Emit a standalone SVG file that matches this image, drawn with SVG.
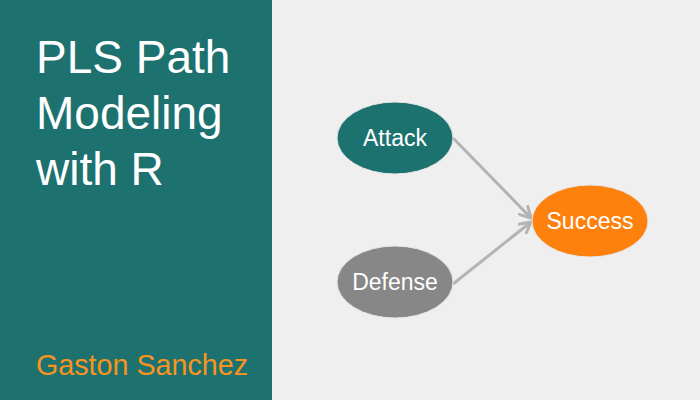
<svg xmlns="http://www.w3.org/2000/svg" width="700" height="400" viewBox="0 0 700 400">
<defs>
<style>
.title{font-family:"Liberation Sans",Arial,sans-serif;font-size:46px;fill:#ffffff}
.author{font-family:"Liberation Sans",Arial,sans-serif;font-size:28.7px;fill:#f7941d}
.lbl{font-family:"Liberation Sans",Arial,sans-serif;font-size:23px;fill:#ffffff;text-anchor:middle}
.edge{stroke:#b3b3b3;stroke-width:3;fill:none;marker-end:url(#arr)}
.node ellipse{stroke:#e6e6e6;stroke-width:1}
</style>
<marker id="arr" viewBox="0 0 14 14" refX="12" refY="7" markerWidth="14" markerHeight="14" markerUnits="userSpaceOnUse" orient="auto">
<path d="M1,1 L12,7 L1,13" fill="none" stroke="#b3b3b3" stroke-width="3" stroke-linecap="round" stroke-linejoin="round"/>
</marker>
</defs>
<rect x="0" y="0" width="700" height="400" fill="#efefef"/>
<rect x="0" y="0" width="272" height="400" fill="#1d726f"/>
<text class="title" x="36" y="73">PLS Path</text>
<text class="title" x="36" y="129">Modeling</text>
<text class="title" x="36" y="185">with R</text>
<text class="author" x="36" y="375">Gaston Sanchez</text>
<g id="connectors">
<line class="edge" x1="453" y1="138" x2="531" y2="218"/>
<line class="edge" x1="453" y1="284" x2="531" y2="222"/>
</g>
<g id="attack" class="node">
<ellipse cx="395" cy="138" rx="58" ry="36" fill="#1b726f"/>
<text class="lbl" x="395" y="146">Attack</text>
</g>
<g id="defense" class="node">
<ellipse cx="395" cy="282" rx="58" ry="36" fill="#878787"/>
<text class="lbl" x="395" y="290">Defense</text>
</g>
<g id="success" class="node">
<ellipse cx="590" cy="221" rx="58" ry="36" fill="#fd810c"/>
<text class="lbl" x="590" y="229">Success</text>
</g>
</svg>
